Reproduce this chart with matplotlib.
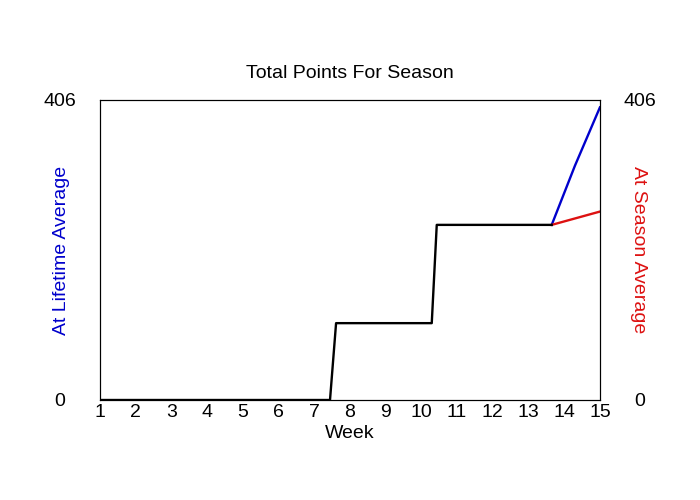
import matplotlib.pyplot as plt

plt.rcParams['font.family'] = ['Liberation Sans', 'DejaVu Sans']

# Total points so far (shared part of both projections)
weeks_actual = [1, 7.44, 7.61, 10.29, 10.43, 13.65]
points_actual = [0, 0, 104, 104, 237, 237]

# Projection at lifetime average
weeks_lifetime = [13.65, 14.3, 15]
points_lifetime = [237, 317, 396]

# Projection at season average
weeks_season = [13.65, 15]
points_season = [237, 255]

y_max = 406
week_ticks = list(range(1, 16))

fig = plt.figure(figsize=(7, 5), dpi=100)
ax = fig.add_axes([0.143, 0.2, 0.714, 0.6])

ax.plot(weeks_lifetime, points_lifetime, color='#0000cc', lw=1.7)
ax.plot(weeks_season, points_season, color='#dd1111', lw=1.7)
ax.plot(weeks_actual, points_actual, color='black', lw=1.7)

ax.set_xlim(1, 15)
ax.set_ylim(0, y_max)
ax.set_xticks(week_ticks)
ax.set_yticks([0, y_max])
ax.tick_params(axis='x', length=0, pad=3, labelsize=14)
ax.tick_params(axis='y', length=0, pad=29, labelsize=14)
for t in ax.get_yticklabels():
    t.set_horizontalalignment('center')

ax.set_xlabel('Week', fontsize=14, labelpad=3)
ax.set_ylabel('At Lifetime Average', color='#0000cc', fontsize=14, va='center')
ax.yaxis.set_label_coords(-0.078, 0.5)
ax.set_title('Total Points For Season', fontsize=14, pad=16)

ax2 = ax.twinx()
ax2.set_ylim(0, y_max)
ax2.set_yticks([0, y_max])
ax2.tick_params(axis='y', length=0, pad=29, labelsize=14)
for t in ax2.get_yticklabels():
    t.set_horizontalalignment('center')
ax2.set_ylabel('At Season Average', color='#dd1111', fontsize=14,
               rotation=-90, va='center')
ax2.yaxis.set_label_coords(1.078, 0.5)

plt.savefig('out.png', dpi=100)
